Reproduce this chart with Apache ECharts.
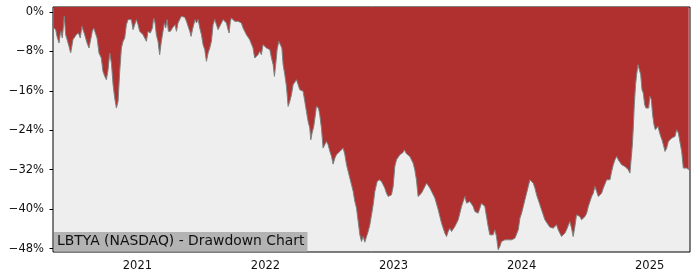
<!DOCTYPE html>
<html>
<head>
<meta charset="utf-8">
<script src="https://cdn.jsdelivr.net/npm/echarts@6/dist/echarts.min.js"></script>
<style>
html,body{margin:0;padding:0;background:#fff;}
#chart{width:700px;height:280px;}
</style>
</head>
<body>
<div id="chart"></div>
<script>
// Decimal-year dates (x) and drawdown in percent (y)
const yearFrac = [
2020.346,2020.362,2020.372,2020.388,2020.401,2020.414,2020.429,2020.440,2020.450,2020.466,
2020.479,2020.487,2020.497,2020.510,2020.523,2020.539,2020.554,2020.567,2020.575,2020.588,
2020.607,2020.622,2020.633,2020.648,2020.659,2020.669,2020.685,2020.700,2020.718,2020.731,
2020.745,2020.758,2020.771,2020.784,2020.797,2020.810,2020.823,2020.836,2020.849,2020.862,
2020.875,2020.888,2020.901,2020.914,2020.927,2020.940,2020.953,2020.966,2020.979,2020.992,
2021.005,2021.018,2021.031,2021.044,2021.057,2021.070,2021.083,2021.101,2021.117,2021.127,
2021.138,2021.148,2021.161,2021.174,2021.187,2021.200,2021.211,2021.221,2021.232,2021.242,
2021.258,2021.273,2021.284,2021.294,2021.305,2021.317,2021.330,2021.343,2021.357,2021.370,
2021.383,2021.396,2021.409,2021.419,2021.430,2021.440,2021.450,2021.461,2021.474,2021.487,
2021.500,2021.513,2021.526,2021.539,2021.552,2021.565,2021.578,2021.591,2021.604,2021.617,
2021.630,2021.643,2021.656,2021.669,2021.682,2021.695,2021.708,2021.716,2021.726,2021.734,
2021.747,2021.760,2021.773,2021.786,2021.799,2021.812,2021.825,2021.838,2021.851,2021.864,
2021.877,2021.890,2021.903,2021.916,2021.929,2021.942,2021.955,2021.968,2021.981,2021.995,
2022.008,2022.021,2022.034,2022.047,2022.060,2022.070,2022.081,2022.091,2022.104,2022.117,
2022.128,2022.138,2022.151,2022.164,2022.177,2022.190,2022.203,2022.216,2022.229,2022.242,
2022.255,2022.268,2022.281,2022.294,2022.307,2022.320,2022.333,2022.346,2022.354,2022.364,
2022.377,2022.388,2022.398,2022.414,2022.424,2022.437,2022.450,2022.463,2022.476,2022.489,
2022.503,2022.516,2022.528,2022.542,2022.554,2022.568,2022.581,2022.594,2022.607,2022.620,
2022.633,2022.646,2022.659,2022.672,2022.685,2022.698,2022.711,2022.724,2022.737,2022.750,
2022.763,2022.776,2022.789,2022.802,2022.815,2022.828,2022.841,2022.854,2022.872,2022.888,
2022.906,2022.919,2022.932,2022.945,2022.958,2022.971,2022.984,2022.997,2023.010,2023.023,
2023.036,2023.049,2023.062,2023.075,2023.083,2023.101,2023.114,2023.127,2023.140,2023.153,
2023.166,2023.179,2023.192,2023.205,2023.218,2023.232,2023.245,2023.258,2023.271,2023.284,
2023.297,2023.310,2023.323,2023.336,2023.349,2023.362,2023.375,2023.388,2023.401,2023.414,
2023.427,2023.440,2023.453,2023.466,2023.479,2023.492,2023.505,2023.518,2023.531,2023.544,
2023.557,2023.570,2023.583,2023.596,2023.609,2023.622,2023.635,2023.648,2023.661,2023.674,
2023.687,2023.700,2023.713,2023.726,2023.739,2023.752,2023.765,2023.778,2023.791,2023.804,
2023.817,2023.830,2023.843,2023.857,2023.870,2023.883,2023.896,2023.909,2023.922,2023.935,
2023.948,2023.961,2023.974,2023.987,2024.000,2024.013,2024.026,2024.039,2024.052,2024.065,
2024.078,2024.091,2024.104,2024.117,2024.130,2024.143,2024.156,2024.169,2024.182,2024.195,
2024.208,2024.221,2024.234,2024.247,2024.260,2024.273,2024.286,2024.299,2024.312,2024.325,
2024.338,2024.351,2024.364,2024.377,2024.390,2024.403,2024.416,2024.429,2024.442,2024.455,
2024.468,2024.481,2024.495,2024.508,2024.521,2024.534,2024.547,2024.560,2024.573,2024.586,
2024.599,2024.612,2024.625,2024.638,2024.651,2024.664,2024.677,2024.690,2024.703,2024.716,
2024.729,2024.742,2024.755,2024.768,2024.781,2024.794,2024.807,2024.820,2024.833,2024.846,
2024.854,2024.865,2024.872,2024.880,2024.890,2024.898,2024.909,2024.919,2024.930,2024.940,
2024.950,2024.961,2024.971,2024.982,2024.992,2025.002,2025.013,2025.023,2025.034,2025.044,
2025.054,2025.065,2025.075,2025.086,2025.096,2025.107,2025.120,2025.133,2025.146,2025.159,
2025.172,2025.185,2025.198,2025.211,2025.224,2025.237,2025.250,2025.263,2025.276,2025.289,2025.305
];
const drawdown = [
-3.26,-3.58,-4.95,-6.30,-3.93,-5.29,-0.89,-4.61,-4.27,-6.98,
-8.33,-8.67,-5.62,-5.29,-4.61,-4.27,-5.29,-2.92,-2.58,-4.61,
-6.30,-7.32,-7.65,-3.93,-3.26,-3.26,-5.29,-8.33,-9.35,-12.05,
-13.07,-13.74,-11.71,-8.33,-10.36,-14.76,-17.47,-19.50,-18.14,-12.05,
-7.32,-5.96,-5.29,-2.58,-1.56,-1.90,-1.56,-3.59,-3.93,-1.56,
-2.58,-3.93,-3.59,-4.61,-4.95,-5.96,-3.93,-4.27,-3.26,-1.23,
-2.24,-4.61,-5.96,-8.67,-5.96,-3.93,-2.24,-3.26,-1.56,-3.93,
-3.93,-3.26,-2.92,-2.58,-3.93,-2.24,-1.56,-0.89,-1.23,-1.09,
-1.90,-2.92,-3.93,-4.95,-3.59,-2.58,-1.56,-2.24,-1.56,-3.26,
-4.61,-6.64,-7.65,-10.02,-8.33,-7.32,-5.96,-2.58,-1.56,-1.23,
-3.59,-3.26,-2.24,-1.56,-1.23,-2.24,-3.59,-4.27,-1.90,-1.23,
-1.56,-1.90,-1.56,-1.90,-1.56,-2.24,-3.26,-3.93,-4.61,-4.61,
-5.62,-5.96,-7.32,-9.35,-9.01,-8.67,-8.00,-8.67,-6.64,-6.98,
-7.32,-7.65,-7.65,-9.35,-10.70,-13.07,-10.36,-7.65,-5.96,-5.62,
-7.32,-10.70,-12.73,-15.10,-19.16,-18.14,-16.79,-14.76,-15.10,-13.75,
-14.76,-15.78,-15.78,-16.11,-18.14,-20.18,-22.21,-23.56,-25.93,-24.58,
-23.22,-21.19,-19.16,-19.50,-20.85,-23.56,-27.62,-27.28,-26.27,-26.94,
-28.30,-29.31,-30.87,-29.65,-28.97,-29.31,-28.30,-27.96,-27.62,-28.97,
-31.00,-32.36,-33.71,-35.07,-36.42,-38.45,-39.80,-42.51,-45.22,-46.57,
-45.56,-46.71,-45.56,-44.54,-43.19,-41.16,-39.13,-36.42,-34.39,-34.05,
-34.39,-34.73,-35.74,-36.76,-37.43,-37.10,-37.10,-35.40,-31.34,-29.99,
-29.65,-28.97,-28.64,-28.50,-27.96,-28.77,-28.97,-29.31,-29.99,-30.67,
-32.02,-34.05,-37.43,-37.43,-36.76,-36.08,-35.40,-34.73,-35.07,-35.74,
-36.42,-37.10,-37.77,-38.11,-40.14,-41.50,-42.85,-43.86,-44.88,-45.56,
-44.54,-43.86,-44.54,-44.20,-43.53,-42.85,-42.17,-40.82,-39.47,-38.45,
-37.43,-38.79,-38.79,-38.45,-38.79,-39.47,-40.48,-40.14,-40.82,-39.80,
-38.79,-38.45,-39.47,-41.50,-43.53,-45.22,-45.56,-45.22,-44.20,-45.56,
-48.26,-47.59,-46.57,-46.91,-46.23,-46.57,-46.23,-45.89,-46.23,-46.23,
-45.89,-46.23,-44.20,-41.83,-40.82,-39.47,-38.11,-36.76,-35.40,-34.05,
-33.71,-34.73,-35.74,-37.10,-38.11,-39.13,-40.14,-41.16,-42.17,-42.51,
-43.19,-43.66,-43.86,-43.86,-44.20,-43.19,-44.20,-44.88,-45.56,-45.89,
-44.88,-44.20,-43.86,-42.51,-43.86,-45.56,-43.53,-41.16,-41.16,-41.50,
-42.17,-41.83,-41.50,-40.82,-39.47,-38.45,-37.43,-36.76,-35.40,-36.42,
-37.43,-37.10,-36.76,-35.74,-35.40,-34.05,-33.71,-34.05,-32.36,-31.00,
-29.99,-29.31,-29.99,-30.33,-31.00,-30.67,-31.34,-31.34,-32.02,-32.70,
-33.03,-26.94,-23.56,-18.82,-14.76,-12.73,-10.70,-10.70,-12.73,-15.78,
-16.45,-18.82,-19.50,-19.16,-19.50,-17.13,-17.81,-20.85,-22.88,-23.90,
-23.56,-23.22,-24.24,-25.25,-25.93,-26.94,-28.30,-27.62,-26.27,-25.93,
-25.59,-25.59,-25.25,-23.90,-24.58,-24.91,-28.30,-31.68,-32.02,-31.68,-32.02
];
const yearTicks = [2021, 2022, 2023, 2024, 2025];
const pctTicks = [-48, -40, -32, -24, -16, -8, 0];
const chartTitle = 'LBTYA (NASDAQ) - Drawdown Chart';

const points = yearFrac.map((x, i) => [x, drawdown[i]]);
const FONT = '"DejaVu Sans", sans-serif';

const chart = echarts.init(document.getElementById('chart'), null, {renderer: 'canvas'});
chart.setOption({
  animation: false,
  backgroundColor: '#ffffff',
  grid: {
    left: 53, top: 7, width: 637, height: 245,
    show: true, backgroundColor: '#eeeeee',
    borderColor: '#000000', borderWidth: 1
  },
  title: {
    text: chartTitle,
    left: 54, top: 232,
    backgroundColor: '#b3b3b3',
    padding: [2, 3, 2, 3],
    textStyle: {fontFamily: FONT, fontSize: 13.9, fontWeight: 'normal', color: '#111111', lineHeight: 15.5}
  },
  xAxis: {
    type: 'value', min: 2020.341, max: 2025.315,
    axisLine: {show: false},
    splitLine: {show: false},
    axisTick: {show: true, length: 3.5, lineStyle: {color: '#000', width: 1}, customValues: yearTicks},
    axisLabel: {
      customValues: yearTicks, margin: 8,
      fontFamily: FONT, fontSize: 11.5, color: '#111',
      formatter: v => String(Math.round(v))
    }
  },
  yAxis: {
    type: 'value', min: -48.7, max: 1.0,
    axisLine: {show: false},
    splitLine: {show: false},
    axisTick: {show: true, length: 3.5, lineStyle: {color: '#000', width: 1}, customValues: pctTicks},
    axisLabel: {
      customValues: pctTicks, margin: 9,
      fontFamily: FONT, fontSize: 11.5, color: '#111',
      formatter: v => (v < 0 ? '\u2212' : '') + Math.abs(Math.round(v)) + '%'
    }
  },
  series: [{
    type: 'line',
    data: points,
    symbol: 'none',
    showSymbol: false,
    lineStyle: {color: '#808080', width: 1},
    areaStyle: {color: '#b03030', opacity: 1, origin: 'end'},
    z: 2
  }]
});
</script>
</body>
</html>
